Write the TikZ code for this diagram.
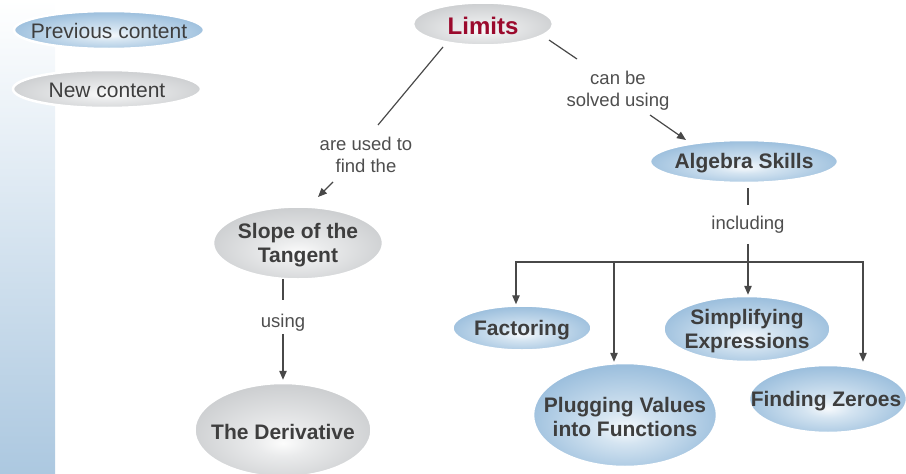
\documentclass[tikz,border=0pt]{standalone}
\usepackage{fontspec}
\setmainfont{Liberation Sans}
\usetikzlibrary{shapes.geometric,arrows.meta}
\definecolor{blueinner}{RGB}{246,249,252}
\definecolor{bluemid}{RGB}{212,228,241}
\definecolor{blueedge}{RGB}{156,191,221}
\definecolor{grayinner}{RGB}{252,252,252}
\definecolor{graymid}{RGB}{234,235,236}
\definecolor{grayedge}{RGB}{205,207,209}
\definecolor{sidebarc}{RGB}{172,200,224}
\definecolor{txt}{RGB}{62,62,62}
\definecolor{lbl}{RGB}{78,78,78}
\definecolor{limred}{RGB}{155,10,45}
\definecolor{linec}{RGB}{72,72,72}
\pgfdeclareradialshading{blueball}{\pgfpoint{0bp}{-7bp}}{color(0bp)=(blueinner); color(8bp)=(bluemid); color(27bp)=(blueedge); color(50bp)=(blueedge)}
\pgfdeclareradialshading{grayball}{\pgfpoint{0bp}{-7bp}}{color(0bp)=(grayinner); color(8bp)=(graymid); color(27bp)=(grayedge); color(50bp)=(grayedge)}
\tikzset{
  bub/.style={ellipse, draw=white, line width=2.5pt, inner sep=0pt},
  bluenode/.style={bub, shading=blueball},
  graynode/.style={bub, shading=grayball},
  ntext/.style={align=center, text=txt, inner sep=0pt, yshift=-2pt, font=\fontsize{21}{24}\selectfont\bfseries},
  legtext/.style={align=center, text=txt, inner sep=0pt, yshift=-1pt, font=\fontsize{21}{24}\selectfont},
  lab/.style={align=center, text=lbl, inner sep=1pt, font=\fontsize{18.5}{22}\selectfont},
  conn/.style={draw=linec, line width=1.2pt},
  arr/.style={conn, -{Triangle[length=9pt,width=7.5pt]}}
}
\begin{document}
\begin{tikzpicture}[x=1pt,y=-1pt]
\useasboundingbox (0,0) rectangle (906,474);
\shade[top color=white, bottom color=sidebarc] (0,0) rectangle (55,474);

% legend
\node[bluenode, minimum width=190pt, minimum height=38pt] (prev) at (109,30) {};
\node[legtext] (prevt) at (prev) {Previous content};
\node[graynode, minimum width=188pt, minimum height=38pt] (new) at (107,89) {};
\node[legtext] (newt) at (new) {New content};

% bubbles
\node[graynode, minimum width=140pt, minimum height=43pt] (limits) at (483,24) {};
\node[ntext, text=limred, font=\fontsize{24}{28}\selectfont\bfseries] (limitst) at (limits) {Limits};
\node[bluenode, minimum width=188pt, minimum height=43pt] (alg) at (744,161.5) {};
\node[ntext] (algt) at (alg) {Algebra Skills};
\node[graynode, minimum width=170pt, minimum height=73pt] (slope) at (298,243) {};
\node[ntext] (slopet) at (slope) {Slope of the\\Tangent};
\node[graynode, minimum width=177pt, minimum height=94pt] (deriv) at (283,430) {};
\node[ntext] (derivt) at (deriv) {The Derivative};
\node[bluenode, minimum width=139pt, minimum height=45pt] (fac) at (522,328) {};
\node[ntext] (fact) at (fac) {Factoring};
\node[bluenode, minimum width=167pt, minimum height=66pt] (simp) at (747,329) {};
\node[ntext] (simpt) at (simp) {Simplifying\\Expressions};
\node[bluenode, minimum width=184pt, minimum height=104pt] (plug) at (625,415) {};
\node[ntext] (plugt) at (plug) {Plugging Values\\into Functions};
\node[bluenode, minimum width=158pt, minimum height=68pt] (zero) at (828,399) {};
\node[ntext] (zerot) at (826,399) {Finding Zeroes};

% labels
\node[lab] (l1) at (366,155) {are used to\\find the};
\node[lab] (l2) at (618,91) {can be\\solved using};
\node[lab] (l3) at (748,225) {including};
\node[lab] (l4) at (283,323) {using};

% connectors
\draw[conn] ([shift={(-40,23)}]limits.center) -- ([shift={(12,-30)}]l1.center);
\draw[arr] ([shift={(-33,27)}]l1.center) -- ([shift={(20,-46)}]slope.center);
\draw[conn] ([shift={(66,16)}]limits.center) -- ([shift={(-41,-32)}]l2.center);
\draw[arr] ([shift={(32,24)}]l2.center) -- ([shift={(-58,-21.5)}]alg.center);

\draw[conn] ([yshift=-4pt]alg.south -| l3.north) -- ([yshift=10pt]l3.north);
\coordinate (hub) at (748,262);
\draw[conn] ([yshift=-9pt]l3.south) -- (hub);
\draw[arr] (hub) -- (hub |- simp.north);
\draw[arr] (hub) -| ([xshift=-6pt]fac.north);
\draw[arr] (hub) -| ([xshift=-11pt]plug.north);
\draw[arr] (hub) -| ([xshift=35pt,yshift=2pt]zero.north);

\draw[conn] ([yshift=2pt]slope.south -| l4.north) -- ([yshift=13pt]l4.north);
\draw[arr] ([yshift=-1pt]l4.south) -- ([yshift=2pt]l4.south |- deriv.north);
\end{tikzpicture}
\end{document}
